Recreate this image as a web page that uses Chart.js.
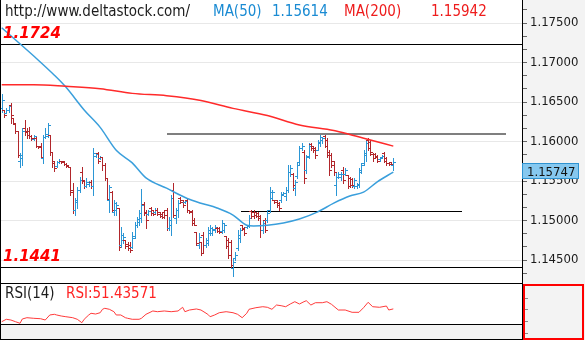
<!DOCTYPE html>
<html>
<head>
<meta charset="utf-8">
<script src="https://cdn.jsdelivr.net/npm/chart.js@4.4.1/dist/chart.umd.min.js"></script>
<style>
  html, body { margin: 0; padding: 0; background: #fff; }
  #wrap { position: relative; width: 585px; height: 340px; overflow: hidden; }
  #wrap canvas { position: absolute; left: 0; }
  #priceChart { top: 0; }
  #rsiChart { top: 284px; }
</style>
</head>
<body>
<div id="wrap">
  <canvas id="priceChart" width="585" height="284"></canvas>
  <canvas id="rsiChart" width="585" height="56"></canvas>
</div>
<script>
// EURUSD bars, oldest first
const BAR_OPEN = [
  1.1642,1.1640,1.1636,1.1640,1.1646,1.1630,1.1622,1.1613,1.1576,1.1579,
  1.1617,1.1614,1.1614,1.1607,1.1603,1.1604,1.1595,1.1594,1.1579,1.1606,
  1.1609,1.1608,1.1587,1.1575,1.1569,1.1574,1.1576,1.1575,1.1571,1.1570,
  1.1568,1.1539,1.1513,1.1523,1.1539,1.1561,1.1550,1.1544,1.1546,1.1549,
  1.1544,1.1582,1.1585,1.1579,1.1580,1.1570,1.1554,1.1526,1.1536,1.1511,
  1.1513,1.1516,1.1469,1.1475,1.1475,1.1470,1.1469,1.1466,1.1480,1.1495,
  1.1498,1.1503,1.1521,1.1511,1.1508,1.1516,1.1513,1.1511,1.1514,1.1511,
  1.1508,1.1511,1.1513,1.1490,1.1494,1.1539,1.1503,1.1513,1.1528,1.1526,
  1.1523,1.1526,1.1513,1.1512,1.1501,1.1485,1.1469,1.1473,1.1482,1.1469,
  1.1471,1.1484,1.1484,1.1488,1.1490,1.1490,1.1487,1.1488,1.1480,1.1475,
  1.1473,1.1440,1.1452,1.1465,1.1478,1.1494,1.1490,1.1492,1.1494,1.1512,
  1.1511,1.1511,1.1509,1.1506,1.1488,1.1501,1.1501,1.1513,1.1528,1.1526,
  1.1526,1.1522,1.1526,1.1533,1.1531,1.1539,1.1561,1.1559,1.1541,1.1557,
  1.1574,1.1592,1.1587,1.1564,1.1582,1.1597,1.1594,1.1592,1.1589,1.1599,
  1.1602,1.1607,1.1602,1.1587,1.1583,1.1575,1.1545,1.1555,1.1555,1.1564,
  1.1559,1.1558,1.1554,1.1552,1.1544,1.1544,1.1545,1.1561,1.1573,1.1583,
  1.1602,1.1599,1.1584,1.1584,1.1582,1.1578,1.1580,1.1585,1.1579,1.1573,
  1.1574,1.1570
];
const BAR_HIGH = [
  1.1660,1.1640,1.1642,1.1646,1.1649,1.1630,1.1623,1.1614,1.1585,1.1617,
  1.1627,1.1617,1.1618,1.1608,1.1608,1.1606,1.1595,1.1598,1.1608,1.1617,
  1.1623,1.1608,1.1587,1.1576,1.1576,1.1578,1.1576,1.1576,1.1573,1.1570,
  1.1568,1.1547,1.1528,1.1542,1.1555,1.1568,1.1551,1.1554,1.1550,1.1551,
  1.1592,1.1585,1.1587,1.1582,1.1580,1.1573,1.1554,1.1545,1.1537,1.1526,
  1.1523,1.1516,1.1492,1.1484,1.1475,1.1473,1.1473,1.1485,1.1498,1.1504,
  1.1513,1.1540,1.1523,1.1513,1.1513,1.1517,1.1514,1.1516,1.1516,1.1511,
  1.1509,1.1513,1.1516,1.1504,1.1532,1.1547,1.1516,1.1526,1.1530,1.1526,
  1.1526,1.1528,1.1513,1.1513,1.1503,1.1485,1.1484,1.1473,1.1485,1.1478,
  1.1492,1.1494,1.1492,1.1494,1.1492,1.1492,1.1501,1.1497,1.1480,1.1478,
  1.1475,1.1452,1.1460,1.1488,1.1490,1.1494,1.1492,1.1494,1.1507,1.1513,
  1.1513,1.1511,1.1511,1.1507,1.1501,1.1503,1.1513,1.1542,1.1539,1.1526,
  1.1526,1.1523,1.1536,1.1536,1.1542,1.1570,1.1570,1.1560,1.1551,1.1574,
  1.1595,1.1598,1.1589,1.1583,1.1598,1.1598,1.1595,1.1593,1.1602,1.1608,
  1.1606,1.1608,1.1604,1.1589,1.1585,1.1576,1.1560,1.1561,1.1561,1.1568,
  1.1566,1.1558,1.1555,1.1554,1.1554,1.1547,1.1566,1.1573,1.1589,1.1602,
  1.1604,1.1602,1.1585,1.1585,1.1583,1.1580,1.1583,1.1587,1.1580,1.1573,
  1.1574,1.1579
];
const BAR_LOW = [
  1.1638,1.1631,1.1636,1.1637,1.1623,1.1622,1.1611,1.1580,1.1568,1.1570,
  1.1608,1.1604,1.1604,1.1602,1.1602,1.1593,1.1592,1.1579,1.1573,1.1604,
  1.1606,1.1583,1.1568,1.1563,1.1568,1.1573,1.1573,1.1570,1.1568,1.1568,
  1.1532,1.1509,1.1507,1.1516,1.1536,1.1547,1.1541,1.1542,1.1544,1.1541,
  1.1532,1.1580,1.1573,1.1578,1.1564,1.1551,1.1526,1.1511,1.1511,1.1507,
  1.1507,1.1463,1.1466,1.1471,1.1465,1.1463,1.1460,1.1465,1.1478,1.1492,
  1.1494,1.1498,1.1507,1.1490,1.1507,1.1507,1.1507,1.1509,1.1507,1.1504,
  1.1503,1.1503,1.1488,1.1488,1.1482,1.1504,1.1497,1.1504,1.1522,1.1517,
  1.1522,1.1511,1.1509,1.1494,1.1494,1.1469,1.1465,1.1456,1.1459,1.1466,
  1.1469,1.1482,1.1482,1.1485,1.1485,1.1484,1.1484,1.1485,1.1465,1.1452,
  1.1440,1.1430,1.1450,1.1463,1.1473,1.1488,1.1482,1.1490,1.1492,1.1503,
  1.1503,1.1504,1.1501,1.1479,1.1484,1.1485,1.1498,1.1511,1.1526,1.1522,
  1.1517,1.1513,1.1523,1.1532,1.1526,1.1536,1.1557,1.1539,1.1532,1.1554,
  1.1570,1.1589,1.1547,1.1560,1.1579,1.1589,1.1587,1.1579,1.1589,1.1595,
  1.1598,1.1593,1.1580,1.1558,1.1568,1.1558,1.1532,1.1554,1.1551,1.1547,
  1.1558,1.1541,1.1542,1.1542,1.1541,1.1541,1.1542,1.1560,1.1570,1.1576,
  1.1589,1.1583,1.1576,1.1579,1.1574,1.1576,1.1579,1.1574,1.1570,1.1570,
  1.1570,1.1564
];
const BAR_CLOSE = [
  1.1652,1.1633,1.1640,1.1645,1.1633,1.1623,1.1613,1.1583,1.1583,1.1614,
  1.1612,1.1608,1.1607,1.1604,1.1607,1.1595,1.1593,1.1580,1.1606,1.1607,
  1.1621,1.1587,1.1573,1.1566,1.1574,1.1576,1.1574,1.1571,1.1569,1.1568,
  1.1536,1.1513,1.1526,1.1539,1.1551,1.1551,1.1544,1.1549,1.1549,1.1544,
  1.1585,1.1584,1.1576,1.1580,1.1570,1.1554,1.1527,1.1542,1.1513,1.1522,
  1.1520,1.1466,1.1482,1.1479,1.1468,1.1465,1.1463,1.1478,1.1494,1.1502,
  1.1509,1.1520,1.1509,1.1501,1.1512,1.1509,1.1508,1.1513,1.1508,1.1506,
  1.1504,1.1507,1.1490,1.1501,1.1528,1.1507,1.1513,1.1522,1.1523,1.1520,
  1.1525,1.1513,1.1511,1.1497,1.1495,1.1471,1.1479,1.1459,1.1469,1.1475,
  1.1488,1.1490,1.1489,1.1492,1.1487,1.1485,1.1497,1.1494,1.1468,1.1456,
  1.1444,1.1447,1.1457,1.1482,1.1488,1.1489,1.1484,1.1493,1.1503,1.1506,
  1.1507,1.1506,1.1503,1.1488,1.1497,1.1488,1.1509,1.1536,1.1536,1.1523,
  1.1520,1.1516,1.1532,1.1535,1.1539,1.1561,1.1566,1.1545,1.1549,1.1570,
  1.1592,1.1595,1.1554,1.1580,1.1595,1.1592,1.1589,1.1583,1.1598,1.1606,
  1.1604,1.1595,1.1583,1.1564,1.1570,1.1561,1.1555,1.1559,1.1559,1.1551,
  1.1564,1.1544,1.1545,1.1545,1.1551,1.1546,1.1564,1.1570,1.1585,1.1598,
  1.1592,1.1587,1.1579,1.1580,1.1576,1.1579,1.1582,1.1576,1.1573,1.1571,
  1.1571,1.15747
];

// moving averages, sampled at bar index
const MA50_AT  = [0,16,23,28,36,43,50,57,63,72,81,87,94,101,107,110,116,123,130,138,145,152,158,164,171];
const MA50_VAL = [1.1744,1.1703,1.1684,1.1669,1.1640,1.1618,1.1589,1.1573,1.1554,1.1541,1.1528,1.1522,1.1516,1.1507,
                  1.1494,1.1493,1.1494,1.1497,1.1502,1.1511,1.1522,1.1531,1.1536,1.1549,1.15614];
const MA200_AT  = [0,14,28,43,57,72,87,101,116,130,145,152,161,171];
const MA200_VAL = [1.1672,1.1672,1.1670,1.1667,1.1661,1.1658,1.1652,1.1642,1.1633,1.1621,1.1614,1.1609,1.1602,1.15942];

// RSI(14), sampled at bar index
const RSI_AT = [0,2,4,6,8,9,11,14,17,19,21,23,24,26,28,31,33,35,36,38,39,41,43,44,45,47,49,50,52,54,55,57,60,61,63,
                66,68,71,74,77,79,80,82,85,87,90,91,93,95,98,101,103,105,107,108,111,114,116,118,120,122,124,126,128,
                130,132,133,135,137,140,142,144,147,150,153,156,158,160,162,165,168,169,171];
const RSI_VAL = [26.5,31.2,29.8,26.5,23.4,31.8,34.3,33.1,32.3,29.8,39.6,40.9,39.6,37.6,36.2,34.3,31.2,24.5,31.2,39.6,
                 42.9,41.5,44.0,50.7,52.6,50.7,46.0,39.6,39.6,34.3,33.1,31.2,31.2,33.1,40.9,47.4,46.0,47.4,46.0,47.4,
                 54.6,46.0,49.3,51.3,49.3,40.9,36.2,39.6,44.0,46.0,44.0,40.9,34.3,42.9,50.7,53.8,55.7,54.6,50.7,59.0,
                 57.7,55.7,61.0,65.5,61.0,65.5,67.4,59.0,63.5,63.5,65.5,60.4,49.3,49.3,44.8,44.8,53.8,64.3,55.7,54.6,
                 57.1,49.3,51.43571];

// horizontal levels across the whole chart
const LEVELS = [1.1724, 1.1441];
// drawn segments: price, first bar index, last bar index
const SEG_PRICE = [1.1609, 1.1512];
const SEG_FROM  = [72, 104.5];
const SEG_TO    = [220, 201];

const PRICE_TICKS = [1.145, 1.150, 1.155, 1.160, 1.165, 1.170, 1.175];
const TICK_STEP = 0.005;

const X_MIN = -0.75, X_MAX = 227.2;
const Y_MIN = 1.14197, Y_MAX = 1.17792;
const RSI_MIN = 22, RSI_MAX = 100;

const FONT = '"DejaVu Sans Condensed", "DejaVu Sans", sans-serif';
const UP = '#2b96d5', DOWN = '#b1262b';

function pts(xs, ys){ return xs.map((x, i)=> ({ x, y: ys[i] })); }

function axisTicks(){
  const out = [];
  const third = TICK_STEP / 3;
  for(let v = PRICE_TICKS[0] - TICK_STEP; v <= Y_MAX; v += third){
    const r = Math.round(v * 1e6) / 1e6;
    if(r < Y_MIN) continue;
    const major = PRICE_TICKS.some(t => Math.abs(t - r) < 1e-7);
    out.push({ value: r, major });
  }
  return out;
}

const pricePanel = {
  id: 'pricePanel',
  beforeDraw(chart){
    const { ctx, chartArea: a, width, height } = chart;
    ctx.save();
    ctx.fillStyle = '#fff';
    ctx.fillRect(0, 0, width, height);
    ctx.fillStyle = '#f3f3f3';
    ctx.fillRect(a.right, 0, width - a.right, height);
    ctx.restore();
  },
  beforeDatasetsDraw(chart){
    const { ctx, chartArea: a } = chart;
    const xs = chart.scales.x, ys = chart.scales.y;
    ctx.save();
    ctx.beginPath();
    ctx.rect(a.left, a.top, a.right - a.left, a.bottom - a.top);
    ctx.clip();

    ctx.fillStyle = '#000';
    LEVELS.forEach(p => {
      const y = Math.round(ys.getPixelForValue(p));
      ctx.fillRect(a.left, y, a.right - a.left, 1);
    });
    SEG_PRICE.forEach((p, i) => {
      const y = Math.round(ys.getPixelForValue(p));
      const x0 = Math.round(xs.getPixelForValue(SEG_FROM[i]));
      const x1 = Math.round(xs.getPixelForValue(SEG_TO[i]));
      if(i === 0){ ctx.fillStyle = '#7f7f7f'; ctx.fillRect(x0, y - 1, x1 - x0, 2); }
      else { ctx.fillStyle = '#000'; ctx.fillRect(x0, y, x1 - x0, 1); }
    });

    // OHLC bars: open tick left, close tick right
    BAR_CLOSE.forEach((c, i) => {
      const o = BAR_OPEN[i];
      const px = Math.round(xs.getPixelForValue(i));
      const yh = Math.round(ys.getPixelForValue(BAR_HIGH[i]));
      const yl = Math.round(ys.getPixelForValue(BAR_LOW[i]));
      const yo = Math.round(ys.getPixelForValue(o));
      const yc = Math.round(ys.getPixelForValue(c));
      ctx.fillStyle = c >= o ? UP : DOWN;
      ctx.fillRect(px, yh, 1, yl - yh + 1);
      ctx.fillRect(px - 2, yo, 2, 1);
      ctx.fillRect(px + 1, yc, 2, 1);
    });
    ctx.restore();
  },
  afterDraw(chart){
    const { ctx, chartArea: a } = chart;
    const ys = chart.scales.y;
    ctx.save();
    ctx.fillStyle = '#000';
    ctx.fillRect(0, a.bottom - 1, a.right, 1);
    ctx.fillRect(0, 0, 1, a.bottom);

    ctx.textBaseline = 'alphabetic';
    ctx.font = '15px ' + FONT;
    ctx.fillStyle = '#1c1c1c';
    ctx.fillText('http://www.deltastock.com/', 5, 16);
    ctx.fillStyle = '#1a8bd3';
    ctx.fillText('MA(50)', 213, 16);
    ctx.fillText(MA50_VAL[MA50_VAL.length - 1].toFixed(5), 272, 16);
    ctx.fillStyle = '#ee1c1c';
    ctx.fillText('MA(200)', 344, 16);
    ctx.fillText(MA200_VAL[MA200_VAL.length - 1].toFixed(5), 431, 16);

    ctx.font = 'italic bold 15px "DejaVu Sans", sans-serif';
    ctx.fillStyle = '#ff0000';
    LEVELS.forEach(p => {
      const y = Math.round(ys.getPixelForValue(p));
      ctx.fillText(p.toFixed(4), 3, y - 6);
    });

    // last price tag
    const last = BAR_CLOSE[BAR_CLOSE.length - 1];
    const top = Math.round(ys.getPixelForValue(last)) + 1;
    ctx.fillStyle = '#86c8ef';
    ctx.fillRect(a.right, top, 57, 16);
    ctx.strokeStyle = '#2e93d1';
    ctx.lineWidth = 1;
    ctx.strokeRect(a.right + 0.5, top + 0.5, 56, 15);
    ctx.font = '13px ' + FONT;
    ctx.fillStyle = '#111';
    ctx.fillText(last.toFixed(5), a.right + 5, top + 13);
    ctx.restore();
  }
};

const rsiPanel = {
  id: 'rsiPanel',
  beforeDraw(chart){
    const { ctx, chartArea: a, width, height } = chart;
    ctx.save();
    ctx.fillStyle = '#fff';
    ctx.fillRect(0, 0, width, height);
    ctx.fillStyle = '#f3f3f3';
    ctx.fillRect(0, a.bottom, a.right, height - a.bottom);
    ctx.fillRect(a.right, 0, width - a.right, height);
    ctx.restore();
  },
  afterDraw(chart){
    const { ctx, chartArea: a, height } = chart;
    ctx.save();
    ctx.fillStyle = '#000';
    ctx.fillRect(0, a.bottom, a.right, 1);
    ctx.fillRect(0, height - 1, a.right, 1);
    ctx.fillRect(a.right, 0, 1, height);
    ctx.fillRect(0, 0, 1, height);
    ctx.fillStyle = '#888';
    [14, 25, 37, 49].forEach(y => ctx.fillRect(a.right + 3, y, 3, 1));
    ctx.strokeStyle = '#ff0000';
    ctx.lineWidth = 2;
    ctx.strokeRect(a.right + 2, 1, 59, height - 2);

    ctx.textBaseline = 'alphabetic';
    ctx.font = '15px ' + FONT;
    ctx.fillStyle = '#1c1c1c';
    ctx.fillText('RSI(14)', 5, 14);
    ctx.fillStyle = '#ff2424';
    ctx.fillText('RSI:' + RSI_VAL[RSI_VAL.length - 1].toFixed(5), 66, 14);
    ctx.restore();
  }
};

const priceChart = new Chart(document.getElementById('priceChart'), {
  type: 'line',
  data: {
    datasets: [
      { data: pts(MA200_AT, MA200_VAL), borderColor: '#ff2a2a', borderWidth: 1.5, pointRadius: 0, cubicInterpolationMode: 'monotone' },
      { data: pts(MA50_AT, MA50_VAL), borderColor: '#3a9fdc', borderWidth: 1.5, pointRadius: 0, cubicInterpolationMode: 'monotone' }
    ]
  },
  options: {
    responsive: false,
    animation: false,
    events: [],
    layout: { padding: 0 },
    plugins: { legend: { display: false }, tooltip: { enabled: false } },
    scales: {
      x: { type: 'linear', display: false, min: X_MIN, max: X_MAX },
      y: {
        type: 'linear', position: 'right', min: Y_MIN, max: Y_MAX,
        afterBuildTicks(scale){ scale.ticks = axisTicks(); },
        afterFit(scale){ scale.width = 63; scale.paddingTop = 0; scale.paddingBottom = 0; },
        grid: {
          color: c => (c.tick && c.tick.major) ? '#e8e8e8' : 'rgba(0,0,0,0)',
          tickColor: '#666', tickLength: 5, drawTicks: true
        },
        border: { display: true, color: '#000', width: 1 },
        ticks: {
          autoSkip: false, padding: 3, color: '#1a1a1a',
          font: { family: FONT, size: 13 },
          callback: (v, i, t) => t[i].major ? v.toFixed(5) : ''
        }
      }
    }
  },
  plugins: [pricePanel]
});

const rsiChart = new Chart(document.getElementById('rsiChart'), {
  type: 'line',
  data: {
    datasets: [
      { data: pts(RSI_AT, RSI_VAL), borderColor: '#ff3b3b', borderWidth: 1, pointRadius: 0, tension: 0 }
    ]
  },
  options: {
    responsive: false,
    animation: false,
    events: [],
    layout: { padding: { right: 63, bottom: 16 } },
    plugins: { legend: { display: false }, tooltip: { enabled: false } },
    scales: {
      x: { type: 'linear', display: false, min: X_MIN, max: X_MAX },
      y: { type: 'linear', display: false, min: RSI_MIN, max: RSI_MAX }
    }
  },
  plugins: [rsiPanel]
});
</script>
</body>
</html>
